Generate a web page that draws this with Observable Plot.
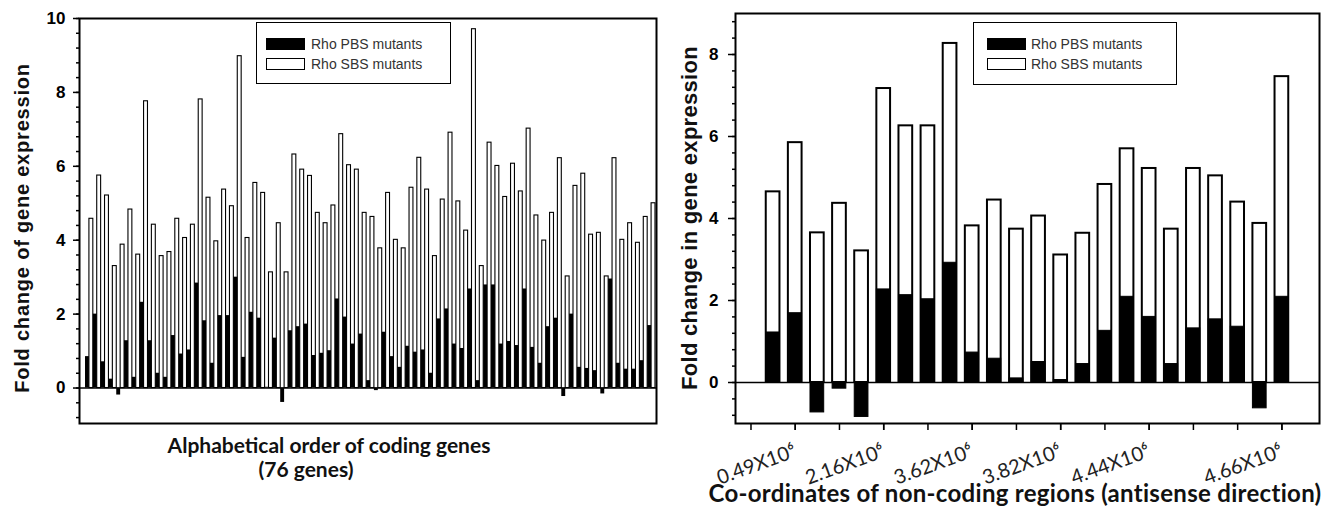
<!DOCTYPE html>
<html><head><meta charset="utf-8">
<script src="https://cdn.jsdelivr.net/npm/d3@7"></script>
<script src="https://cdn.jsdelivr.net/npm/@observablehq/plot@0.6"></script>
<style>
body{margin:0;background:#fff;}
#wrap{position:relative;width:1341px;height:515px;overflow:hidden;background:#fff;}
.panel{position:absolute;top:0;}
.lbl{position:absolute;white-space:nowrap;font-weight:bold;color:#111;}
.legend{position:absolute;border:1.5px solid #000;background:#fff;box-sizing:border-box;}
.sw{position:absolute;width:39px;height:12px;box-sizing:border-box;border:1.5px solid #000;}
.lt{position:absolute;font-family:"Liberation Sans",Arial,sans-serif;font-size:14px;color:#333;white-space:nowrap;line-height:14px;}
</style></head><body><div id="wrap"></div>
<script>
// ---------- Left panel: coding genes (alphabetical order) ----------
const geneIndex = d3.range(1, 74);
const pbsCoding = [0.85,2.0,0.71,0.24,-0.19,1.28,0.29,2.32,1.28,0.40,0.29,1.42,0.92,1.03,2.84,1.82,0.67,1.96,1.96,3.0,
  0.83,2.05,1.89,0.02,1.35,-0.39,1.55,1.66,1.73,0.88,0.94,1.01,2.41,1.92,1.19,1.46,0.2,-0.07,1.51,0.85,0.56,1.13,0.97,1.03,0.40,1.87,2.14,
  1.19,1.07,2.68,0.2,2.79,2.79,1.19,1.26,1.15,2.68,1.10,0.67,1.66,1.89,-0.23,2.0,0.56,0.53,0.47,-0.16,2.95,0.67,0.51,0.51,0.74,1.69];
const sbsCoding = [4.58,5.75,5.21,3.30,3.88,4.83,3.61,7.76,4.42,3.57,3.68,4.58,4.06,4.42,7.81,5.15,3.97,5.37,4.92,8.98,
  4.06,5.55,5.28,3.13,4.46,3.13,6.32,5.91,5.74,4.74,4.46,4.94,6.87,6.03,5.91,4.74,4.63,3.78,5.28,4.01,3.78,5.42,6.23,5.37,3.57,5.10,6.91,
  5.05,4.26,9.71,3.30,6.64,6.01,5.17,6.07,5.32,7.02,4.67,3.99,4.74,6.22,3.02,5.47,5.80,4.15,4.20,3.02,6.22,4.01,4.46,3.93,4.63,5.0];
const leftTicks = [0, 2, 4, 6, 8, 10];

// ---------- Right panel: non-coding regions ----------
const regionIndex = d3.range(1, 25);
const pbsNonCoding = [1.22,1.69,-0.73,-0.15,-0.84,2.27,2.13,2.03,2.92,0.73,0.58,0.10,0.50,0.06,0.45,1.26,2.09,1.60,0.45,1.32,1.54,1.36,-0.63,2.09];
const sbsNonCoding = [4.65,5.85,3.65,4.37,3.21,7.17,6.26,6.26,8.27,3.82,4.45,3.74,4.06,3.11,3.64,4.83,5.70,5.22,3.74,5.22,5.04,4.40,3.88,7.46];
const rightTicks = [0, 2, 4, 6, 8];
const coordTickPos = [2, 6, 10, 14, 18, 24];
const coordTickLabels = ["0.49X10\u2076", "2.16X10\u2076", "3.62X10\u2076", "3.82X10\u2076", "4.44X10\u2076", "4.66X10\u2076"];

const leftData = geneIndex.map((i, k) => ({i, pbs: pbsCoding[k], sbs: sbsCoding[k]}));
const rightData = regionIndex.map((i, k) => ({i, pbs: pbsNonCoding[k], sbs: sbsNonCoding[k]}));

const font = "Liberation Sans, Arial, sans-serif";
const wrap = document.getElementById("wrap");

// grouped bars: PBS (black) on the left half, SBS (white) on the right half of each gene slot
const left = Plot.plot({
  width: 670, height: 515, marginLeft: 79, marginRight: 14, marginTop: 18, marginBottom: 92,
  style: {fontFamily: font, background: "transparent", color: "#000", overflow: "visible"},
  x: {domain: [-0.27, 73.63], axis: null},
  y: {domain: [-0.96, 10], label: null, axis: null},
  marks: [
    Plot.rect(leftData, {x1: d => d.i, x2: d => d.i + 0.5, y1: 0, y2: "sbs", fill: "white", stroke: "black", strokeWidth: 1.1}),
    Plot.rect(leftData, {x1: d => d.i - 0.5, x2: d => d.i, y1: 0, y2: "pbs", fill: "black"}),
    Plot.ruleY([0], {stroke: "black", strokeWidth: 1.5}),
    Plot.frame({stroke: "black", strokeWidth: 2}),
    Plot.axisY({ticks: d3.range(-0.8, 10.001, 0.4), tickSize: 3, tickFormat: () => "", strokeWidth: 1.5, label: null}),
    Plot.axisY({ticks: leftTicks, tickSize: 6, tickPadding: 8, fontSize: 17, fontWeight: "bold", strokeWidth: 1.5, label: null})
  ]
});
left.classList.add("panel");
left.style.left = "0px";
wrap.appendChild(left);

const hwR = 0.31;
const right = Plot.plot({
  width: 671, height: 515, marginLeft: 65, marginRight: 22, marginTop: 13, marginBottom: 92,
  style: {fontFamily: font, background: "transparent", color: "#000", overflow: "visible"},
  x: {domain: [-0.7, 25.7], axis: null},
  y: {domain: [-1, 9], label: null, axis: null},
  marks: [
    Plot.rect(rightData, {x1: d => d.i - hwR, x2: d => d.i + hwR, y1: 0, y2: "sbs", fill: "white", stroke: "black", strokeWidth: 2}),
    Plot.rect(rightData, {x1: d => d.i - hwR, x2: d => d.i + hwR, y1: 0, y2: "pbs", fill: "black", stroke: "black", strokeWidth: 1}),
    Plot.ruleY([0], {stroke: "black", strokeWidth: 1.5}),
    Plot.frame({stroke: "black", strokeWidth: 2}),
    Plot.axisY({ticks: d3.range(-0.8, 9.001, 0.4), tickSize: 3, tickFormat: () => "", strokeWidth: 1.5, label: null}),
    Plot.axisY({ticks: rightTicks, tickSize: 7, tickPadding: 10, fontSize: 17, fontWeight: "bold", strokeWidth: 1.5, label: null}),
    Plot.axisX({ticks: d3.range(0, 25, 2), tickSize: 7, tickFormat: () => "", strokeWidth: 1.5, label: null}),
    Plot.axisX({ticks: coordTickPos, tickSize: 7, tickPadding: 20, tickRotate: -20, strokeWidth: 1.5,
      tickFormat: d => coordTickLabels[coordTickPos.indexOf(d)], fontSize: 20, fontFamily: "Lato, sans-serif", fill: "#222", label: null})
  ]
});
right.classList.add("panel");
right.style.left = "670px";
wrap.appendChild(right);

// ---------- axis titles ----------
function addLabel(text, css) {
  const d = document.createElement("div");
  d.className = "lbl";
  d.textContent = text;
  Object.assign(d.style, css);
  wrap.appendChild(d);
  return d;
}
addLabel("Fold change of gene expression", {fontFamily: font, fontSize: "20px", letterSpacing: "0.8px", left: "22px", top: "228px", transform: "translate(-50%,-50%) rotate(-90deg)"});
addLabel("Fold change in gene expression", {fontFamily: font, fontSize: "22px", letterSpacing: "0.3px", left: "690px", top: "218px", transform: "translate(-50%,-50%) rotate(-90deg)"});
addLabel("Alphabetical order of coding genes", {fontFamily: "Lato, sans-serif", fontSize: "21px", left: "329px", top: "444px", transform: "translate(-50%,-50%)"});
addLabel("(76 genes)", {fontFamily: "Lato, sans-serif", fontSize: "21px", left: "306px", top: "468px", transform: "translate(-50%,-50%)"});
addLabel("Co-ordinates of non-coding regions (antisense direction)", {fontFamily: "Lato, sans-serif", fontSize: "24px", letterSpacing: "0.3px", left: "1015px", top: "492px", transform: "translate(-50%,-50%)"});

// ---------- legends ----------
const seriesNames = ["Rho PBS mutants", "Rho SBS mutants"];
const seriesFill = ["#000", "#fff"];
function addLegend(x, y, w, h, swX, textX) {
  const box = document.createElement("div");
  box.className = "legend";
  Object.assign(box.style, {left: x + "px", top: y + "px", width: w + "px", height: h + "px"});
  wrap.appendChild(box);
  seriesNames.forEach((name, k) => {
    const sw = document.createElement("div");
    sw.className = "sw";
    Object.assign(sw.style, {left: (swX - x) + "px", top: (15 + 20 * k) + "px", background: seriesFill[k]});
    box.appendChild(sw);
    const t = document.createElement("div");
    t.className = "lt";
    t.textContent = name;
    Object.assign(t.style, {left: (textX - x) + "px", top: (14 + 20 * k) + "px"});
    box.appendChild(t);
  });
}
addLegend(256, 22, 195, 62, 265, 310);
addLegend(973, 22, 204, 63, 986, 1030);
</script>
</body></html>
